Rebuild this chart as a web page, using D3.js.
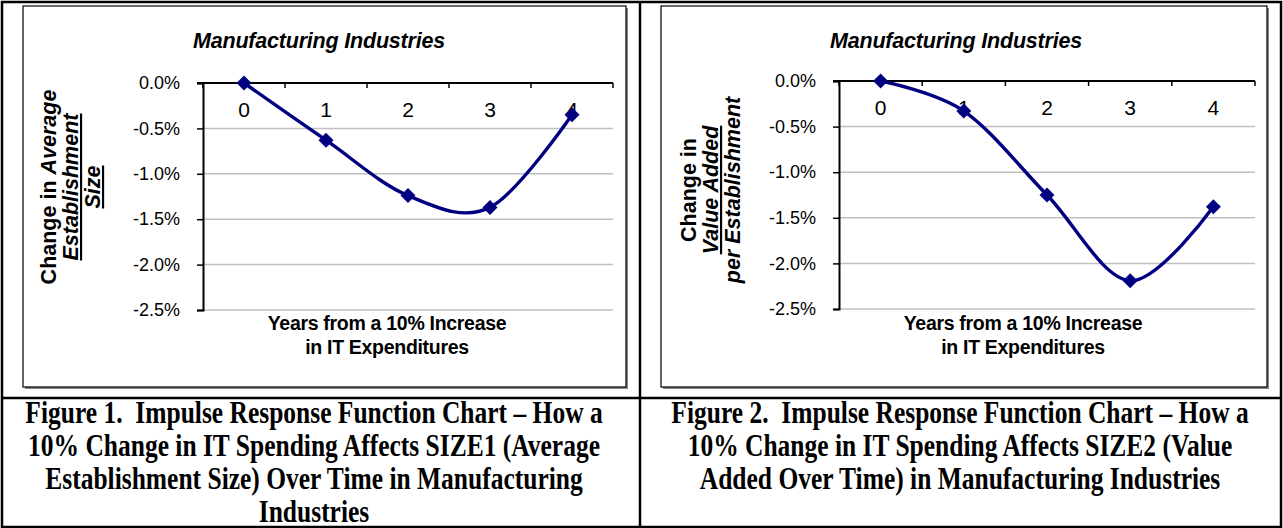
<!DOCTYPE html>
<html><head><meta charset="utf-8">
<script src="https://cdn.jsdelivr.net/npm/d3@7"></script>
<style>body{margin:0;background:#fff}svg{display:block}</style>
</head><body>
<svg id="c" width="1283" height="528"></svg>
<script>
// ---- data ----
const years = [0, 1, 2, 3, 4];
const size1 = [0, -0.63, -1.24, -1.37, -0.35];
const size2 = [0, -0.33, -1.25, -2.19, -1.38];
const yTicks = [0, -0.5, -1.0, -1.5, -2.0, -2.5];
const chartTitle = "Manufacturing Industries";
const xTitle = ["Years from a 10% Increase", "in IT Expenditures"];
const yTitle1 = [["Change in ", "Average"], ["Establishment"], ["Size"]];
const yTitle2 = [["Change in"], ["Value Added"], ["per Establishment"]];
const caption1 = ["Figure 1.  Impulse Response Function Chart – How a",
  "10% Change in IT Spending Affects SIZE1 (Average",
  "Establishment Size) Over Time in Manufacturing",
  "Industries"];
const caption2 = ["Figure 2.  Impulse Response Function Chart – How a",
  "10% Change in IT Spending Affects SIZE2 (Value",
  "Added Over Time) in Manufacturing Industries"];

// ---- drawing ----
const svg = d3.select("#c");
const SANS = "'Liberation Sans', Arial, sans-serif";
const SERIF = "'Liberation Serif', 'Times New Roman', serif";

// table borders
svg.append("rect").attr("x", 2).attr("y", 2).attr("width", 1279).attr("height", 525)
  .attr("fill", "none").attr("stroke", "#000").attr("stroke-width", 2.5);
svg.append("line").attr("x1", 640).attr("x2", 640).attr("y1", 2).attr("y2", 527)
  .attr("stroke", "#000").attr("stroke-width", 2.5);
svg.append("line").attr("x1", 2).attr("x2", 1281).attr("y1", 398).attr("y2", 398)
  .attr("stroke", "#000").attr("stroke-width", 2.5);

const panels = [
  { values: size1, yTitle: yTitle1, yStyles: [["n", "i"], ["iu"], ["iu"]], caption: caption1,
    frame: [23, 6, 626, 387], px: [203, 613], py: [83, 310], titleX: 319, xTitleX: 387,
    yTitleBase: [56, 78, 100], yTitleCy: 187, capX: 314 },
  { values: size2, yTitle: yTitle2, yStyles: [["n"], ["iu"], ["i"]], caption: caption2,
    frame: [661, 6, 1267, 387], px: [839, 1255], py: [81, 309], titleX: 956, xTitleX: 1023,
    yTitleBase: [696, 718, 740], yTitleCy: 190, capX: 960 }
];

panels.forEach(p => {
  const g = svg.append("g");
  const [fx0, fy0, fx1, fy1] = p.frame;
  // chart frame with slight shadow
  g.append("rect").attr("x", fx0 + 2).attr("y", fy0 + 2).attr("width", fx1 - fx0).attr("height", fy1 - fy0)
    .attr("fill", "#888");
  g.append("rect").attr("x", fx0).attr("y", fy0).attr("width", fx1 - fx0).attr("height", fy1 - fy0)
    .attr("fill", "#fff").attr("stroke", "#000").attr("stroke-width", 1.2);

  const x = d3.scaleBand().domain(years).range(p.px);
  const y = d3.scaleLinear().domain([0, -2.5]).range(p.py);

  // gridlines
  g.selectAll(".grid").data(yTicks.filter(d => d !== 0)).join("line")
    .attr("x1", p.px[0]).attr("x2", p.px[1])
    .attr("y1", d => y(d)).attr("y2", d => y(d))
    .attr("stroke", "#c0c0c0").attr("stroke-width", 1.5);

  // y axis
  const yAxis = d3.axisLeft(y).tickValues(yTicks).tickSize(6).tickPadding(17);
  const ya = g.append("g").attr("transform", `translate(${p.px[0]},0)`).call(yAxis);
  ya.select(".domain").attr("stroke", "#000").attr("stroke-width", 2);
  ya.selectAll(".tick line").attr("stroke", "#000").attr("stroke-width", 1.5);
  ya.selectAll(".tick text").attr("font-family", SANS).attr("font-size", 18).attr("fill", "#000")
    .text(d => (d === 0 ? "0.0" : d3.format(".1f")(d).replace("−", "-")) + "%");

  // x axis along top (y=0) with inside ticks at band edges
  const xa = g.append("g").attr("transform", `translate(0,${y(0)})`);
  xa.append("line").attr("x1", p.px[0] - 6).attr("x2", p.px[1]).attr("y1", 0).attr("y2", 0)
    .attr("stroke", "#000").attr("stroke-width", 2);
  const edges = years.map(d => x(d)).concat([p.px[1]]);
  xa.selectAll(".xt").data(edges).join("line")
    .attr("x1", d => d).attr("x2", d => d).attr("y1", 0).attr("y2", 5)
    .attr("stroke", "#000").attr("stroke-width", 1.5);
  xa.selectAll(".xl").data(years).join("text")
    .attr("x", d => x(d) + x.bandwidth() / 2).attr("y", 34)
    .attr("text-anchor", "middle").attr("font-family", SANS).attr("font-size", 21)
    .text(d => d);

  // line
  const line = d3.line()
    .x((d, i) => x(years[i]) + x.bandwidth() / 2)
    .y(d => y(d))
    .curve(d3.curveCardinal.tension(0));
  g.append("path").datum(p.values).attr("d", line)
    .attr("fill", "none").attr("stroke", "#000080").attr("stroke-width", 3.4);

  // markers
  g.selectAll(".mk").data(p.values).join("path")
    .attr("d", d3.symbol(d3.symbolSquare, 112))
    .attr("transform", (d, i) => `translate(${x(years[i]) + x.bandwidth() / 2},${y(d)}) rotate(45)`)
    .attr("fill", "#000080");

  // title
  g.append("text").attr("x", p.titleX).attr("y", 48).attr("text-anchor", "middle")
    .attr("font-family", SANS).attr("font-size", 21.5).attr("font-weight", "bold").attr("font-style", "italic")
    .attr("letter-spacing", "-0.2px")
    .text(chartTitle);

  // x title
  xTitle.forEach((t, i) => {
    g.append("text").attr("x", p.xTitleX).attr("y", 330 + i * 24).attr("text-anchor", "middle")
      .attr("font-family", SANS).attr("font-size", 19.5).attr("font-weight", "bold")
      .attr("letter-spacing", "-0.3px")
      .text(t);
  });

  // y title (rotated)
  p.yTitle.forEach((parts, i) => {
    const t = g.append("text")
      .attr("transform", `translate(${p.yTitleBase[i]},${p.yTitleCy}) rotate(-90)`)
      .attr("text-anchor", "middle").attr("font-family", SANS).attr("font-size", 21.5)
      .attr("font-weight", "bold");
    parts.forEach((s, j) => {
      const st = p.yStyles[i][j];
      const ts = t.append("tspan").text(s);
      if (st.includes("i")) ts.attr("font-style", "italic");
      if (st.includes("u")) ts.attr("text-decoration", "underline");
    });
  });

  // caption (tall Times bold)
  p.caption.forEach((c, i) => {
    svg.append("text")
      .attr("transform", `translate(${p.capX},${423 + i * 33}) scale(1,1.2)`)
      .attr("text-anchor", "middle")
      .style("white-space", "pre")
      .attr("font-family", SERIF).attr("font-size", 25.5).attr("font-weight", "bold")
      .text(c);
  });
});
</script>
</body></html>
